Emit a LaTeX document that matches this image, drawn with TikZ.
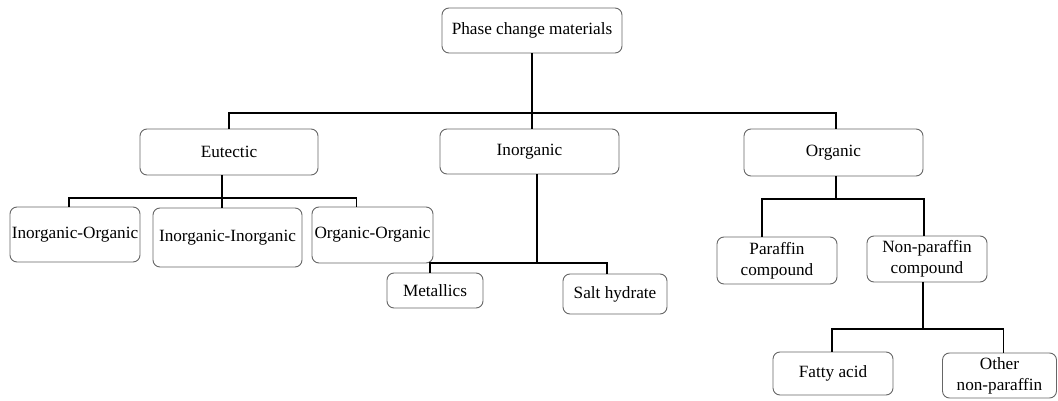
\documentclass[tikz,border=0pt]{standalone}
\usepackage{fontspec}
\setmainfont{Liberation Serif}
\begin{document}
\begin{tikzpicture}[x=1pt,y=-1pt,
  box/.style={draw=black!60, line width=0.9pt, rounded corners=7pt, inner sep=0pt,
    align=center, font=\fontsize{17.2}{21}\selectfont, text=black},
  conn/.style={line width=1.9pt, black}]
\useasboundingbox (0,0) rectangle (1058,401);
% nodes
\node[box, minimum width=180pt, minimum height=45pt] (pcm) at (532,30.5) {Phase change materials};
\node[box, minimum width=178pt, minimum height=46pt] (eut) at (229,152) {Eutectic};
\node[box, minimum width=179pt, minimum height=45pt] (inorg) at (529.5,151.5) {Inorganic};
\node[box, minimum width=179pt, minimum height=47pt] (org) at (833.5,152.5) {Organic};
\node[box, minimum width=130pt, minimum height=55pt] (io) at (75,234.5) {Inorganic-Organic};
\node[box, minimum width=149pt, minimum height=59pt] (ii) at (227.5,237.5) {Inorganic-Inorganic};
\node[box, minimum width=121pt, minimum height=56pt] (oo) at (372.5,235) {Organic-Organic};
\node[box, minimum width=96pt, minimum height=35pt] (met) at (435,290.5) {Metallics};
\node[box, minimum width=104pt, minimum height=40pt] (salt) at (615,294) {Salt hydrate};
\node[box, minimum width=120pt, minimum height=47pt] (par) at (777,260.5) {Paraffin\\compound};
\node[box, minimum width=120pt, minimum height=46pt] (npar) at (927,259) {Non-paraffin\\compound};
\node[box, minimum width=120pt, minimum height=43pt] (fatty) at (833,373.5) {Fatty acid};
\node[box, minimum width=114pt, minimum height=45pt] (other) at (999.5,375.5) {Other\\non-paraffin};
% bus coordinates
\coordinate (b0) at (532,113);
\coordinate (b1) at (222,198);
\coordinate (b2) at (537,263);
\coordinate (b3) at (836,199);
\coordinate (b4) at (923,329);
% connectors
\draw[conn] (pcm.south) -- (b0);
\draw[conn] (b0) -- (inorg.north -| b0);
\draw[conn] (eut.north) |- (b0) -| ([xshift=2.5pt]org.north);
\draw[conn] (eut.south -| b1) -- (b1);
\draw[conn] ([xshift=-6pt]io.north) |- (b1) -| ([xshift=-16pt]oo.north);
\draw[conn] (b1) -- (ii.north -| b1);
\draw[conn] (inorg.south -| b2) -- (b2);
\draw[conn] ([xshift=-5pt]met.north) |- (b2) -| ([xshift=-8pt]salt.north);
\draw[conn] (org.south -| b3) -- (b3);
\draw[conn] ([xshift=-15pt]par.north) |- (b3) -| ([xshift=-3pt]npar.north);
\draw[conn] (npar.south -| b4) -- (b4);
\draw[conn] ([xshift=-1pt]fatty.north) |- (b4) -| ([xshift=4pt]other.north);
\end{tikzpicture}
\end{document}
